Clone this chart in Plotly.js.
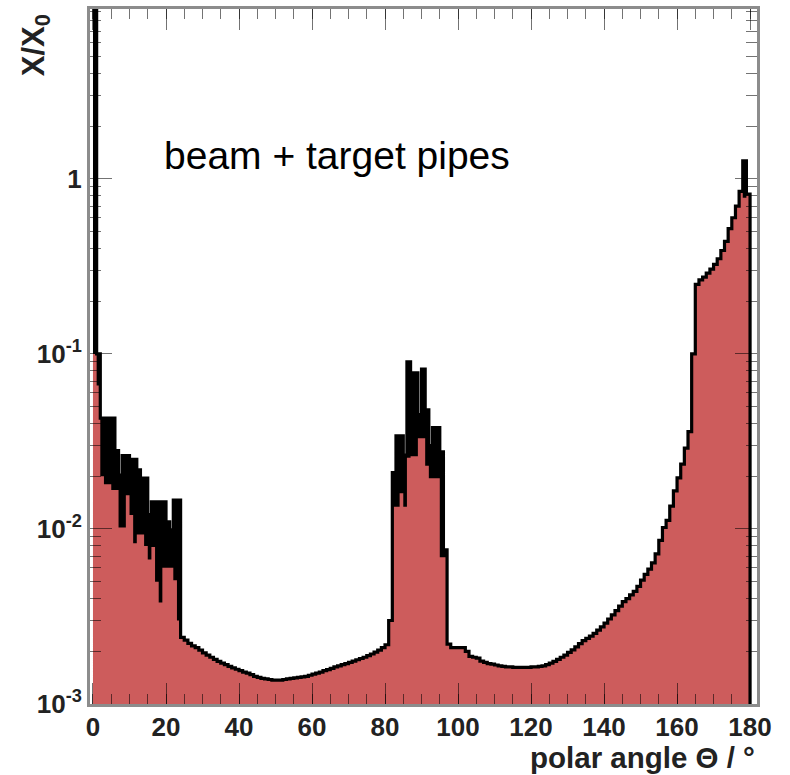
<!DOCTYPE html>
<html>
<head>
<meta charset="utf-8">
<script src="https://cdn.plot.ly/plotly-3.0.1.min.js"></script>
<style>
  html, body { margin: 0; padding: 0; background: #ffffff; }
  #chart { width: 790px; height: 775px; }
</style>
</head>
<body>
<div id="chart"></div>
<script>
// ---- data ----
// polar angle bins: 1 degree wide, starting at 0 degrees
const firstBinEdge = 0;
const binWidth = 1;

// X/X0 per bin (top of the red filled histogram), bins 0..179
const fillValues = [
  0.1, 0.066, 0.02, 0.018, 0.018, 0.0167, 0.0167, 0.0102, 0.0102, 0.0156,
  0.012, 0.0083, 0.0093, 0.0093, 0.008, 0.0067, 0.0079, 0.005, 0.0038, 0.006,
  0.006, 0.006, 0.0051, 0.003, 0.0024, 0.00232, 0.00222, 0.00215, 0.0021, 0.00203,
  0.00196, 0.0019, 0.00185, 0.0018, 0.00175, 0.00171, 0.00168, 0.00164, 0.00161, 0.00158,
  0.00155, 0.00152, 0.0015, 0.00147, 0.00144, 0.00142, 0.0014, 0.00139, 0.00138, 0.00137,
  0.00137, 0.00137, 0.00138, 0.00139, 0.0014, 0.00141, 0.00142, 0.00143, 0.00144, 0.00146,
  0.00148, 0.0015, 0.00152, 0.00155, 0.00157, 0.0016, 0.00163, 0.00165, 0.00168, 0.0017,
  0.00173, 0.00176, 0.00179, 0.00182, 0.00185, 0.00189, 0.00193, 0.00198, 0.00203, 0.0021,
  0.00218, 0.003, 0.0134, 0.0134, 0.016, 0.0134, 0.0255, 0.026, 0.026, 0.033,
  0.033, 0.023, 0.0195, 0.0195, 0.0195, 0.0069, 0.0069, 0.0022, 0.0021, 0.0021,
  0.0021, 0.0021, 0.002, 0.00187, 0.00185, 0.00183, 0.00176, 0.00173, 0.0017, 0.00169,
  0.00167, 0.00165, 0.00164, 0.00163, 0.00163, 0.00162, 0.00162, 0.00162, 0.00162, 0.00162,
  0.00163, 0.00163, 0.00164, 0.00165, 0.00168, 0.00171, 0.00175, 0.0018, 0.00185, 0.0019,
  0.00197, 0.00204, 0.00212, 0.00221, 0.0023, 0.00237, 0.00244, 0.00253, 0.00264, 0.00276,
  0.0029, 0.00306, 0.00323, 0.00342, 0.00362, 0.00385, 0.004, 0.0042, 0.0044, 0.0047,
  0.0051, 0.0055, 0.0059, 0.0064, 0.0072, 0.0086, 0.0102, 0.0112, 0.0135, 0.0165,
  0.0196, 0.0235, 0.029, 0.036, 0.1, 0.25, 0.265, 0.275, 0.29, 0.305,
  0.325, 0.35, 0.39, 0.44, 0.52, 0.6, 0.7, 0.85, 0.78, 0.82
];

// bins where the black outline spikes above the fill, and the spike tops
const spikeBins = [
  0, 1, 2, 3, 4, 5, 6, 7, 8, 9, 10, 11, 12, 13, 14, 15, 16, 17, 18, 19, 20, 21, 22, 23,
  82, 83, 84, 85, 86, 87, 88, 89, 90, 91, 92, 93, 94, 95, 96,
  178
];
const spikeTops = [
  12, 0.1, 0.043, 0.043, 0.043, 0.043, 0.028, 0.0203, 0.0263, 0.0263, 0.025, 0.025,
  0.0218, 0.0195, 0.0195, 0.0121, 0.0143, 0.0143, 0.0143, 0.0143, 0.011, 0.0099, 0.0146, 0.0146,
  0.021, 0.034, 0.034, 0.0264, 0.09, 0.078, 0.078, 0.045, 0.082, 0.048, 0.03, 0.038, 0.038, 0.0276, 0.0076,
  1.27
];

// axis ticks
const xMajorStep = 20;
const xMinorStep = 5;
const yMajorVals = [0.001, 0.01, 0.1, 1];
const yMajorText = ['10<sup>-3</sup>', '10<sup>-2</sup>', '10<sup>-1</sup>', '1'];
const yMinorMantissas = [2, 3, 4, 5, 6, 7, 8, 9];
const yDecades = [0.001, 0.01, 0.1, 1];

// texts
const labelText = 'beam + target pipes';
const xTitleText = 'polar angle \u0398 / \u00B0';
const yTitleText = 'X/X<sub>0</sub>';

// ---- build traces ----
const upperValues = fillValues.slice();
spikeBins.forEach((b, i) => { upperValues[b] = spikeTops[i]; });
const floorValue = 1e-7;
const edge = k => firstBinEdge + k * binWidth;

function stepPolygon(vals) {
  const xs = [edge(0)], ys = [floorValue];
  for (let k = 0; k < vals.length; k++) {
    xs.push(edge(k), edge(k + 1));
    ys.push(vals[k], vals[k]);
  }
  xs.push(edge(vals.length)); ys.push(floorValue);
  return { xs, ys };
}
function stepLine(vals) {
  const xs = [], ys = [];
  for (let k = 0; k < vals.length; k++) {
    xs.push(edge(k), edge(k + 1));
    ys.push(vals[k], vals[k]);
  }
  xs.push(edge(vals.length)); ys.push(floorValue);
  return { xs, ys };
}

const upPoly = stepPolygon(upperValues);
const fillPoly = stepPolygon(fillValues);
const outline = stepLine(upperValues);

const traces = [
  { type: 'scatter', mode: 'lines', x: upPoly.xs, y: upPoly.ys, fill: 'toself',
    fillcolor: '#000000', line: { width: 0, color: '#000000', simplify: false }, hoverinfo: 'skip', showlegend: false },
  { type: 'scatter', mode: 'lines', x: fillPoly.xs, y: fillPoly.ys, fill: 'toself',
    fillcolor: '#cd5c5c', line: { width: 0, color: '#cd5c5c', simplify: false }, hoverinfo: 'skip', showlegend: false },
  { type: 'scatter', mode: 'lines', x: outline.xs, y: outline.ys,
    line: { width: 3.2, color: '#000000', simplify: false }, hoverinfo: 'skip', showlegend: false },
  { type: 'scatter', mode: 'lines', x: [], y: [], xaxis: 'x2', yaxis: 'y2', hoverinfo: 'skip', showlegend: false }
];

const yMinorVals = [];
yDecades.forEach(d => yMinorMantissas.forEach(m => yMinorVals.push(m * d)));

const xRange = [-0.82, 181.9];
const yRange = [-3, 0.971];
const frameColor = '#8c8c8c';
const tickCol = 'rgba(0,0,0,0.55)';
const tickFont = { family: 'Liberation Sans, Arial, sans-serif', size: 26, color: '#222222', weight: 'bold' };

const layout = {
  width: 790, height: 775,
  margin: { l: 90, r: 33, t: 9, b: 71, pad: 0 },
  paper_bgcolor: '#ffffff', plot_bgcolor: '#ffffff',
  showlegend: false, hovermode: false,
  xaxis: {
    range: xRange, showgrid: false, zeroline: false,
    showline: true, linecolor: frameColor, linewidth: 3, mirror: 'allticks',
    ticks: 'inside', tick0: 0, dtick: xMinorStep, ticklen: 10, tickwidth: 1, tickcolor: tickCol,
    showticklabels: false
  },
  xaxis2: {
    overlaying: 'x', anchor: 'y', side: 'bottom', range: xRange,
    showgrid: false, zeroline: false,
    showline: true, linecolor: frameColor, linewidth: 3, mirror: 'allticks',
    ticks: 'inside', tick0: 0, dtick: xMajorStep, ticklen: 21, tickwidth: 1, tickcolor: tickCol,
    showticklabels: true, tickfont: tickFont, ticklabelstandoff: -2
  },
  yaxis: {
    type: 'log', range: yRange, showgrid: false, zeroline: false,
    showline: true, linecolor: frameColor, linewidth: 3, mirror: 'allticks',
    ticks: 'inside', tickmode: 'array', tickvals: yMinorVals,
    ticklen: 11, tickwidth: 1, tickcolor: tickCol, showticklabels: false
  },
  yaxis2: {
    overlaying: 'y', anchor: 'x', side: 'left', type: 'log', range: yRange,
    showgrid: false, zeroline: false,
    showline: true, linecolor: frameColor, linewidth: 3, mirror: 'allticks',
    ticks: 'inside', tickmode: 'array', tickvals: yMajorVals, ticktext: yMajorText,
    ticklen: 22, tickwidth: 1, tickcolor: tickCol, showticklabels: true, tickfont: tickFont
  },
  annotations: [
    { text: labelText, xref: 'paper', yref: 'paper', x: 0.108, y: 0.7885,
      xanchor: 'left', yanchor: 'middle', showarrow: false,
      font: { family: 'Liberation Sans, Arial, sans-serif', size: 39, color: '#000000' } },
    { text: xTitleText, xref: 'paper', yref: 'paper', x: 1.0, y: -0.0763,
      xanchor: 'right', yanchor: 'middle', showarrow: false,
      font: { family: 'Liberation Sans, Arial, sans-serif', size: 29.5, color: '#222222', weight: 'bold' } },
    { text: yTitleText, xref: 'paper', yref: 'paper', x: -0.0818, y: 0.996,
      xanchor: 'center', yanchor: 'top', textangle: -90, showarrow: false,
      font: { family: 'Liberation Sans, Arial, sans-serif', size: 31, color: '#222222', weight: 'bold' } }
  ]
};

Plotly.newPlot('chart', traces, layout, { staticPlot: true, displayModeBar: false });
</script>
</body>
</html>
